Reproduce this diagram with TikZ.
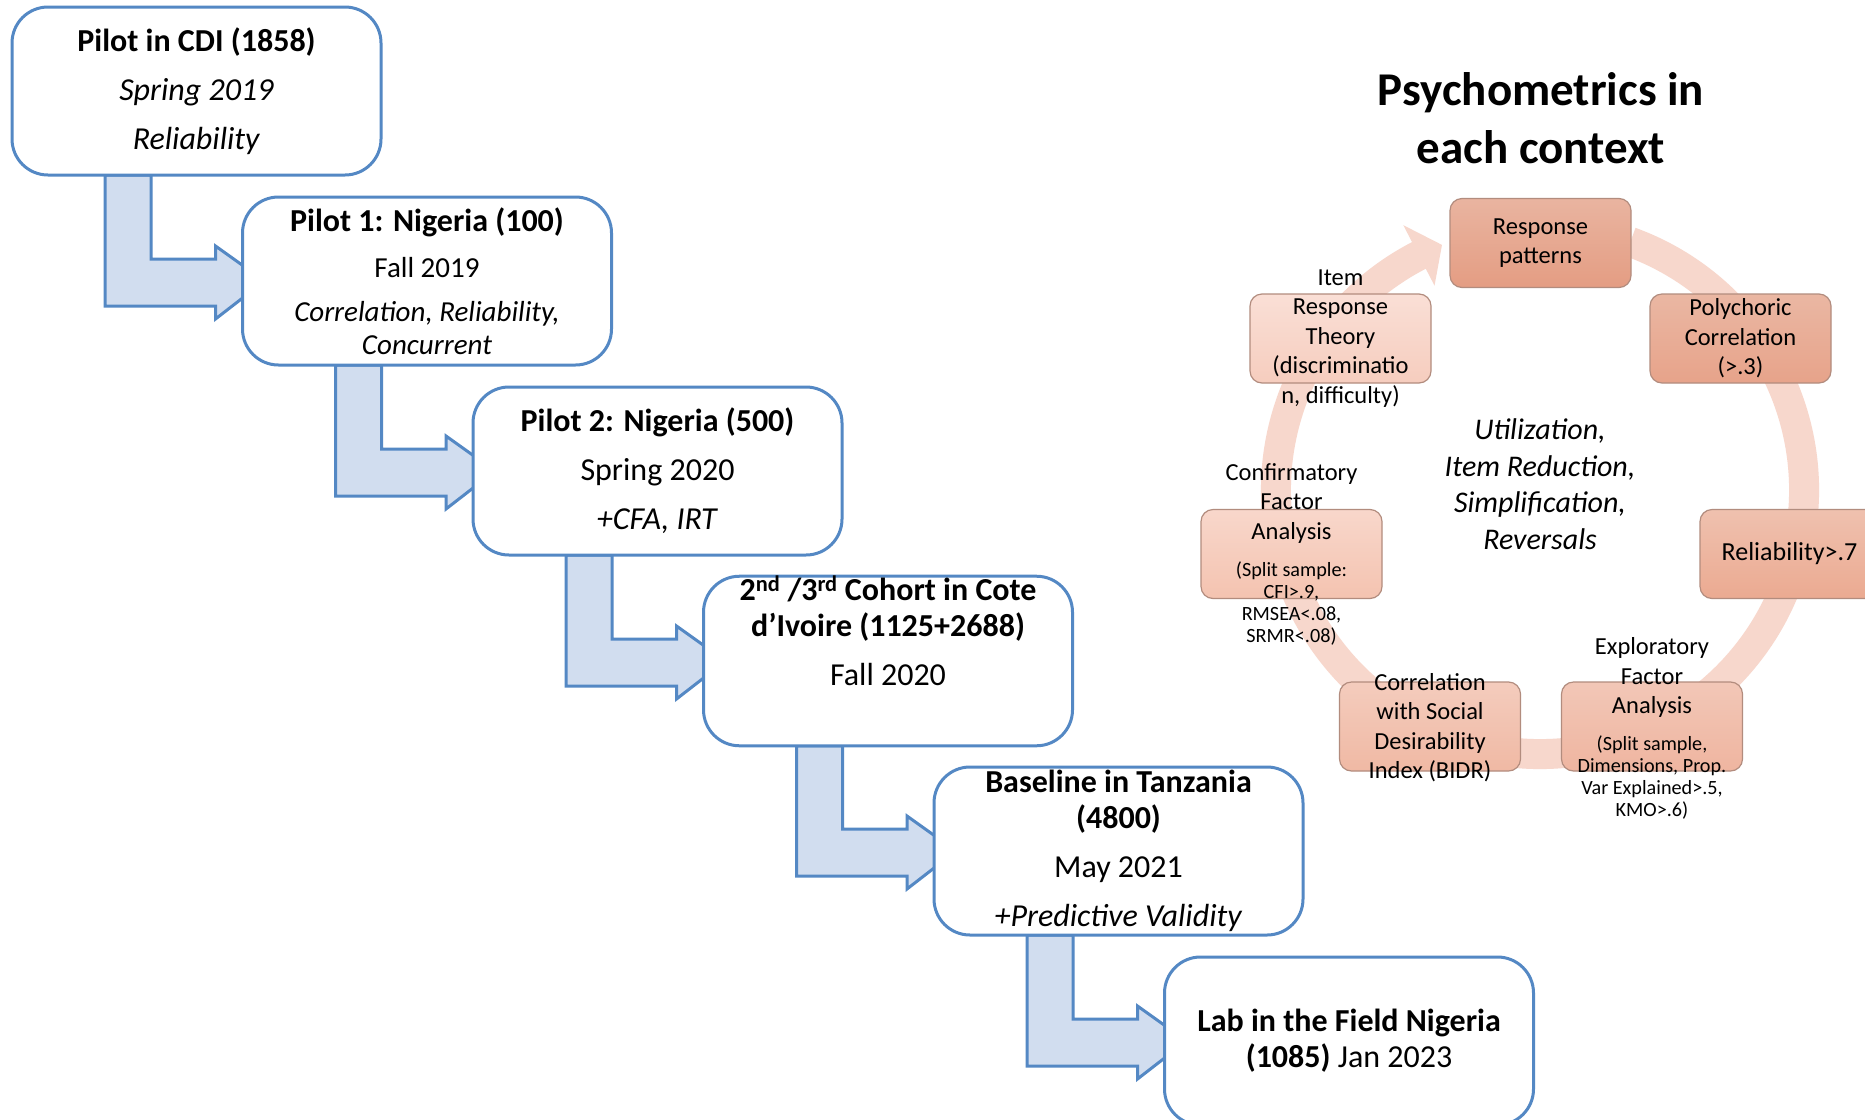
\documentclass[tikz,border=0pt]{standalone}
\usepackage{fontspec}
\setmainfont{Carlito}
\usetikzlibrary{calc}
\pgfdeclarelayer{bg}
\pgfsetlayers{bg,main}
\definecolor{bstroke}{RGB}{84,136,196}
\definecolor{bfill}{RGB}{209,221,239}
\definecolor{ringcol}{RGB}{247,215,204}
\definecolor{nborder}{RGB}{178,140,126}
\definecolor{rpT}{RGB}{233,180,160}\definecolor{rpB}{RGB}{228,157,131}
\definecolor{pcT}{RGB}{234,183,163}\definecolor{pcB}{RGB}{231,163,138}
\definecolor{reT}{RGB}{239,193,175}\definecolor{reB}{RGB}{235,170,145}
\definecolor{efT}{RGB}{242,199,183}\definecolor{efB}{RGB}{239,181,160}
\definecolor{coT}{RGB}{244,204,189}\definecolor{coB}{RGB}{240,185,164}
\definecolor{cfT}{RGB}{248,215,203}\definecolor{cfB}{RGB}{244,195,176}
\definecolor{irT}{RGB}{250,223,214}\definecolor{irB}{RGB}{246,205,190}
\tikzset{
 stepbox/.style={draw=bstroke, line width=3pt, fill=white, rounded corners=36pt,
   minimum width=369pt, minimum height=168pt, align=center, inner sep=0pt, outer sep=0pt,
   font=\fontsize{32}{36}\selectfont},
 barrow/.style={draw=bstroke, line width=3pt, fill=bfill},
 cbox/.style={draw=nborder, line width=1.2pt, rounded corners=12pt,
   minimum width=181pt, minimum height=89pt, inner sep=0pt, outer sep=0pt},
 ctext/.style={align=center, inner sep=0pt, font=\fontsize{24.5}{29.5}\selectfont},
 csmall/.style={align=center, inner sep=0pt, font=\fontsize{20.2}{21.8}\selectfont}
}
\newcommand\bentarrow[2]{%
 \draw[barrow] ($(#1.south west)+(93,0)$) -- ($(#1.south west)+(139,0)$)
  |- ($(#2.west)+(-27,-22)$) -- ($(#2.west)+(-27,-35)$) -- ($(#2.west)+(22,0)$)
  -- ($(#2.west)+(-27,38)$) -- ($(#2.west)+(-27,25)$) -| ($(#1.south west)+(93,0)$) -- cycle;}
\begin{document}
\begin{tikzpicture}[x=1pt,y=-1pt]
\useasboundingbox (0,0) rectangle (1865,1119);
% ---------- left: timeline boxes
\node[stepbox] (b0) at (196.5,91) {\textbf{Pilot in CDI (1858)}\\[13pt]\textit{Spring 2019}\\[13pt]\textit{Reliability}};
\node[stepbox, font=\fontsize{29}{33}\selectfont] (b1) at (427,281) {{\fontsize{32}{36}\selectfont\textbf{Pilot 1: Nigeria (100)}}\\[13pt]Fall 2019\\[11pt]\textit{Correlation, Reliability,}\\\textit{Concurrent}};
\node[stepbox] (b2) at (657.5,471) {\textbf{Pilot 2: Nigeria (500)}\\[13pt]Spring 2020\\[13pt]\textit{+CFA, IRT}};
\node[stepbox] (b3) at (888,661) {\textbf{2\textsuperscript{nd} /3\textsuperscript{rd} Cohort in Cote}\\\textbf{d’Ivoire (1125+2688)}\\[13pt]Fall 2020\\[13pt]\strut};
\node[stepbox] (b4) at (1118.5,851) {\textbf{Baseline in Tanzania}\\\textbf{(4800)}\\[13pt]May 2021\\[13pt]\textit{+Predictive Validity}};
\node[stepbox] (b5) at (1349,1041) {\textbf{Lab in the Field Nigeria}\\\textbf{(1085)} Jan 2023};
% ---------- right: cycle
\coordinate (cc) at (1540,490);
\node[font=\fontsize{47}{58}\selectfont\bfseries, align=center, inner sep=0pt] (title) at (1541,118) {Psychometrics in\\each context};
\node[cbox, top color=rpT, bottom color=rpB] (rp) at (1540.5,243) {};
\node[cbox, top color=pcT, bottom color=pcB] (pc) at (1740.5,338.5) {};
\node[cbox, top color=reT, bottom color=reB] (re) at (1790.5,554) {};
\node[cbox, top color=efT, bottom color=efB] (ef) at (1652,726.5) {};
\node[cbox, top color=coT, bottom color=coB] (co) at (1430,726.5) {};
\node[cbox, top color=cfT, bottom color=cfB] (cf) at (1291.5,554) {};
\node[cbox, top color=irT, bottom color=irB] (ir) at (1340.5,338.5) {};
\node[ctext] (rpt) at (rp.center) {Response\\patterns};
\node[ctext] (pct) at (pc.center) {Polychoric\\Correlation\\(>.3)};
\node[ctext, font=\fontsize{26}{30}\selectfont] (ret) at ($(re.center)+(-1,0)$) {Reliability>.7};
\node[ctext] (eft) at ($(ef.center)+(0,-49)$) {Exploratory\\Factor\\Analysis};
\node[csmall] (efs) at ($(ef.center)+(0,51)$) {(Split sample,\\Dimensions, Prop.\\Var Explained>.5,\\KMO>.6)};
\node[ctext] (cot) at ($(co.center)+(0,1)$) {Correlation\\with Social\\Desirability\\Index (BIDR)};
\node[ctext] (cft) at ($(cf.center)+(0,-51)$) {Confirmatory\\Factor\\Analysis};
\node[csmall] (cfs) at ($(cf.center)+(0,49.5)$) {(Split sample:\\CFI>.9,\\RMSEA<.08,\\SRMR<.08)};
\node[ctext] (irt) at (ir.center) {Item\\Response\\Theory\\(discriminatio\\n, difficulty)};
\node[align=center, inner sep=0pt, font=\fontsize{30}{36.6}\selectfont\itshape] (mid) at (1540,484) {Utilization,\\Item Reduction,\\Simplification,\\Reversals};
% ---------- background layer
\begin{pgfonlayer}{bg}
\fill[white] (0,0) rectangle (1865,1119);
\bentarrow{b0}{b1}
\bentarrow{b1}{b2}
\bentarrow{b2}{b3}
\bentarrow{b3}{b4}
\bentarrow{b4}{b5}
\draw[ringcol, line width=30pt] ($(cc)+(-70:264)$) arc[start angle=-70, end angle=243, radius=264];
\fill[ringcol] ($(cc)+(242.7:298)$) -- ($(cc)+(248.2:264)$) -- ($(cc)+(242.7:230)$) -- cycle;
\end{pgfonlayer}
\end{tikzpicture}
\end{document}
